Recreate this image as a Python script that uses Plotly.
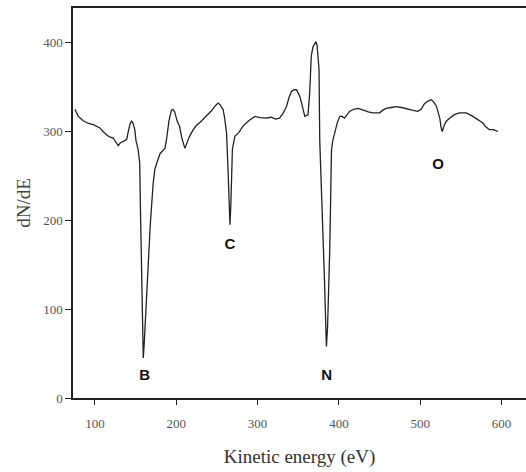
import plotly.graph_objects as go

energy = [75.4, 79.5, 85.6, 92, 98, 106, 110, 114.4, 118, 122.5, 125, 128.6, 131, 134.8, 139, 141, 143, 145, 147, 149, 150.4,
          153, 155, 156, 157.5, 158.5, 159.4, 160.5, 161.4, 163.5, 165.5, 168, 171.6, 173.7, 175.8, 180, 184, 186, 188, 191,
          194, 196, 198, 201, 204, 207, 210.6, 213, 216, 220.8, 225, 230, 237, 243, 248, 251.5, 254, 257.6, 259.5, 261.8,
          263.5, 265, 266, 267, 268, 269, 272, 277, 282, 289, 296.6, 303, 310, 317, 322, 327, 331, 335.5, 338.5, 341.6, 345,
          347.8, 352, 355, 358, 360, 362, 364, 366, 368, 370, 371.5, 373, 374.5, 375.5, 376.4, 378.5, 380.5, 382.5, 384,
          384.6, 386, 387.5, 388.7, 389.8, 390.8, 392.5, 394.8, 398, 401, 404, 407, 410, 413, 418, 423.5, 430, 436, 442,
          446, 450, 454, 458, 464, 470.6, 477, 483, 490, 497, 501, 505, 509, 513.6, 516.5, 519.8, 522, 524, 525.5, 527,
          529.5, 532, 536, 542, 548, 556.6, 564.7, 571, 577, 581, 585, 590, 595.5]
dnde = [325, 317, 312, 309, 307.6, 304, 300, 296, 294, 292.5, 289, 284, 287, 289, 291, 300, 308, 312, 309, 302, 290,
        280, 265, 210, 130, 80, 45, 60, 77, 110, 148, 195, 242, 258, 264, 275, 279, 281, 291, 312,
        324, 325, 322, 312, 306, 292, 281, 288, 294, 302, 307, 311, 317, 323, 329, 332, 330, 324.5, 315, 298,
        260, 220, 195, 215, 250, 280, 294.6, 299, 306, 312, 317, 315.5, 315, 316, 314, 315, 320, 328, 338, 345, 347,
        347, 339.5, 328, 317, 318, 319, 343, 385, 395, 399.6, 401, 397.7, 385, 370, 290, 240, 185, 125, 75,
        58, 80, 125, 167, 225, 279, 290, 298, 310, 317, 317, 315, 319, 322.6, 325, 326, 324, 322, 321,
        321, 321, 324, 326, 327, 328, 327, 326, 324, 322.6, 325, 331, 334, 335.8, 333, 328.5, 320, 315, 305, 300,
        307, 311.6, 315, 319, 321, 321, 317, 313, 309.5, 305, 302, 302, 300]

peak_labels = ["B", "C", "N", "O"]
label_x = [161, 266, 385, 522]
label_y = [24, 172, 24, 262]

x_ticks = [100, 200, 300, 400, 500, 600]
y_ticks = [0, 100, 200, 300, 400]

fig = go.Figure()
fig.add_trace(go.Scatter(x=energy, y=dnde, mode="lines",
                         line=dict(color="#222222", width=1.3), showlegend=False))
fig.add_trace(go.Scatter(x=label_x, y=label_y, mode="text",
                         text=["<b>%s</b>" % t for t in peak_labels],
                         textfont=dict(family="Liberation Sans", size=15, color="#111111"),
                         showlegend=False))

fig.update_layout(
    width=526, height=472,
    margin=dict(l=73, r=0, t=8, b=74),
    paper_bgcolor="white", plot_bgcolor="white",
    font=dict(family="Liberation Serif", color="#444444"),
)
fig.update_xaxes(range=[73, 630], tickvals=x_ticks, ticks="outside", ticklen=5, tickcolor="#222",
                 showline=True, linecolor="#222", linewidth=1.5, mirror=True, showgrid=False, zeroline=False,
                 tickfont=dict(family="Liberation Serif", size=13, color="#555"), ticklabelstandoff=8,
                 title=dict(text="Kinetic energy (eV)", font=dict(family="Liberation Serif", size=19, color="#333"), standoff=19))
fig.update_yaxes(range=[0, 439], tickvals=y_ticks, ticks="outside", ticklen=6, tickcolor="#222",
                 showline=True, linecolor="#222", linewidth=1.5, mirror=False, showgrid=False, zeroline=False,
                 tickfont=dict(family="Liberation Serif", size=13, color="#555"),
                 title=dict(text="dN/dE", font=dict(family="Liberation Serif", size=19, color="#444"), standoff=8))

fig.write_html("out.html")
